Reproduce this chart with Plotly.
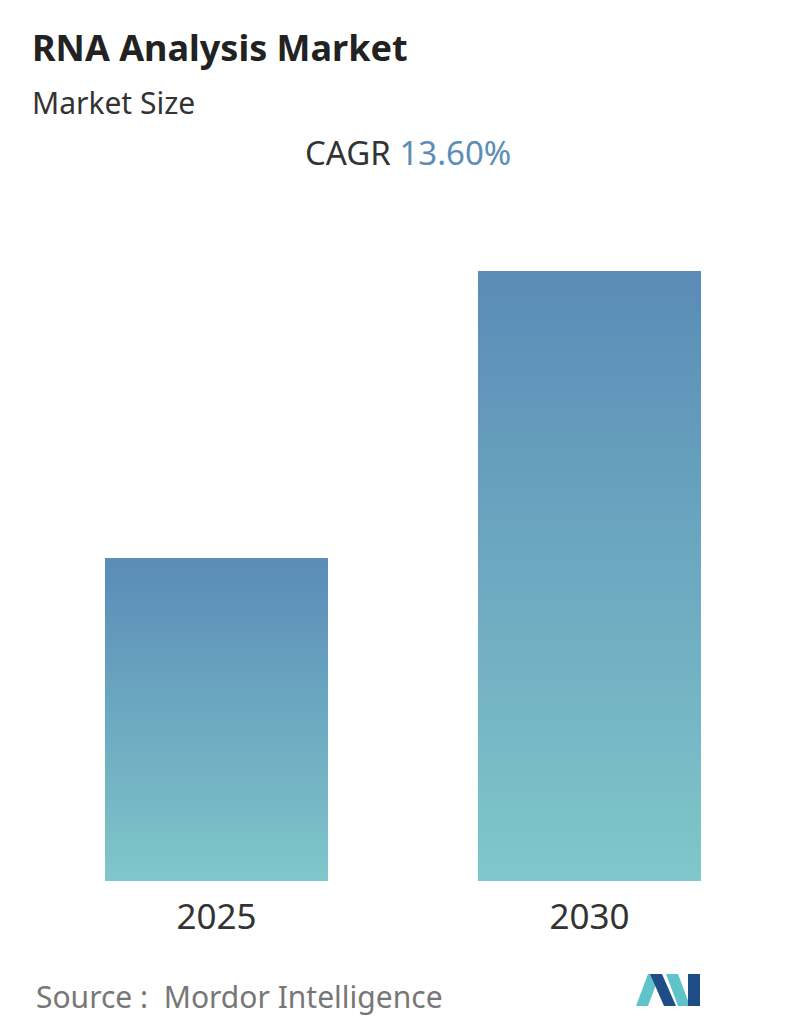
import plotly.graph_objects as go

years = ["2025", "2030"]
values = [1.0, 1.89]
N = 60
top_rgb = (91, 141, 184)
bot_rgb = (128, 198, 202)

fig = go.Figure()
for i in range(N):
    t = i / (N - 1)
    c = tuple(int(b + (a - b) * t) for a, b in zip(top_rgb, bot_rgb))
    fig.add_trace(go.Bar(x=years, y=[v / N for v in values],
                         marker=dict(color="rgb(%d,%d,%d)" % c, line=dict(width=0)),
                         hoverinfo="skip", showlegend=False))

W, H = 796, 1034
OFF = 8
L, R, T, B = 22, 28, 263, 161
PW, PH = W - L - R, H - T - B
def px(x): return (x - OFF - L) / PW
def py(y): return 1 - (y - OFF - T) / PH

fig.update_layout(
    width=W, height=H, barmode="stack", bargap=0.402,
    margin=dict(l=L, r=R, t=T, b=B),
    paper_bgcolor="white", plot_bgcolor="white",
    xaxis=dict(showline=False, showgrid=False, ticks="", ticklabelstandoff=12,
               tickfont=dict(size=35, color="#333", family="Noto Sans")),
    yaxis=dict(visible=False, range=[0, max(values)]),
    font=dict(family="Noto Sans"),
)
ann = [
    dict(text="<b>RNA Analysis Market</b>", x=px(30), y=py(47), font=dict(size=36, color="#222")),
    dict(text="Market Size", x=px(30), y=py(103), font=dict(size=30, color="#333")),
    dict(text="Source :  Mordor Intelligence", x=px(34), y=py(996), font=dict(size=30, color="#777")),
]
for a in ann:
    a.update(xref="paper", yref="paper", xanchor="left", yanchor="middle", showarrow=False)
fig.add_annotation(text="CAGR <span style='color:#5b8db8'>13.60%</span>", xref="paper", yref="paper",
                   x=px(408), y=py(153), xanchor="center", yanchor="middle", showarrow=False,
                   font=dict(size=33, color="#333"))
fig.update_layout(annotations=fig.layout.annotations + tuple(ann))

def path(pts):
    return "M " + " L ".join("%f,%f" % (px(x), py(y)) for x, y in pts) + " Z"
logo = [
    ([(636, 1006), (648, 974), (660, 974), (648, 1006)], "#5fc4c9"),
    ([(650, 974), (662, 974), (676, 1006), (664, 1006)], "#1f4e87"),
    ([(666, 974), (678, 974), (690, 1006), (678, 1006)], "#5fc4c9"),
    ([(688, 974), (700, 974), (700, 1006), (688, 1006)], "#1f4e87"),
]
for pts, col in logo:
    fig.add_shape(type="path", path=path(pts), xref="paper", yref="paper",
                  fillcolor=col, line=dict(width=0))

fig.write_html("out.html")
